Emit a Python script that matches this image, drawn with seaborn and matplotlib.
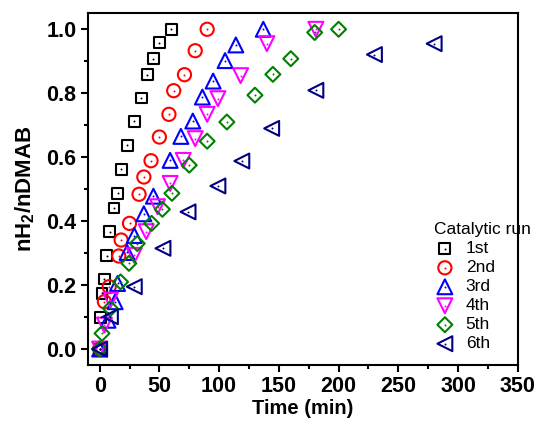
import matplotlib
matplotlib.use("Agg")
import matplotlib.pyplot as plt
import seaborn as sns
from matplotlib.ticker import MultipleLocator, FormatStrFormatter

# Data (time in min, nH2/nDMAB)
t_run1 = [0, 1, 2, 4, 6, 8.5, 12, 15, 18, 23, 29, 35, 40, 45, 50, 60]
y_run1 = [0, 0.10, 0.174, 0.219, 0.292, 0.367, 0.441, 0.487, 0.562, 0.638, 0.713, 0.785, 0.858, 0.908, 0.958, 1.0]

t_run2 = [0, 4, 8, 16, 18, 25, 33, 37, 43, 50, 58, 62, 71, 80, 90]
y_run2 = [0, 0.148, 0.195, 0.291, 0.341, 0.393, 0.484, 0.538, 0.589, 0.663, 0.734, 0.808, 0.858, 0.933, 1.0]

t_run3 = [0, 7, 13, 15, 23, 29, 37, 45, 59, 68, 78, 86, 95, 105, 114, 137]
y_run3 = [0, 0.09, 0.148, 0.205, 0.302, 0.355, 0.423, 0.478, 0.59, 0.665, 0.713, 0.788, 0.838, 0.902, 0.951, 1.0]

t_run4 = [0, 4, 9, 29, 39, 48.5, 59, 70, 80, 90, 99, 118, 140, 181]
y_run4 = [0, 0.075, 0.153, 0.293, 0.367, 0.445, 0.518, 0.59, 0.658, 0.734, 0.783, 0.855, 0.955, 1.0]

t_run5 = [0, 2, 9, 17.5, 24.5, 31.5, 43.5, 52.5, 60.5, 75, 90, 106.5, 130, 145, 160, 180, 200]
y_run5 = [0, 0.049, 0.127, 0.21, 0.268, 0.33, 0.393, 0.437, 0.487, 0.575, 0.65, 0.71, 0.794, 0.859, 0.908, 0.99, 1.0]

t_run6 = [0, 9, 29, 53, 74, 99, 119, 144, 181, 230, 280]
y_run6 = [0, 0.101, 0.195, 0.315, 0.429, 0.51, 0.588, 0.69, 0.809, 0.921, 0.955]

run_labels = ["1st", "2nd", "3rd", "4th", "5th", "6th"]

# styling
colors = ["black", "#FF0000", "#0000FF", "#FF00FF", "#008000", "#000080"]
markers = ["s", "o", "^", "v", "D", "<"]
sizes = [62, 90, 115, 115, 58, 115]

sns.set_style("ticks")
plt.rcParams["font.family"] = ["Liberation Sans", "DejaVu Sans"]
plt.rcParams["mathtext.fontset"] = "custom"
plt.rcParams["mathtext.bf"] = "Liberation Sans:bold"
plt.rcParams["mathtext.rm"] = "Liberation Sans:bold"
for key in ["text.color", "axes.labelcolor", "xtick.color", "ytick.color", "axes.edgecolor"]:
    plt.rcParams[key] = "black"

fig = plt.figure(figsize=(5.36, 4.22), dpi=100)
ax = fig.add_axes([0.1636, 0.135, 0.8024, 0.8335])

runs = [(t_run1, y_run1), (t_run2, y_run2), (t_run3, y_run3),
        (t_run4, y_run4), (t_run5, y_run5), (t_run6, y_run6)]

handles = []
for (t, y), lab, c, m, s in zip(runs, run_labels, colors, markers, sizes):
    sns.scatterplot(x=t, y=y, marker=m, s=s, color=c, facecolor="none",
                    edgecolor=c, linewidth=1.5, ax=ax, legend=False, zorder=3)
    h_marker = ax.collections[-1]
    # small dot in the centre of each symbol
    sns.scatterplot(x=t, y=y, marker="o", s=2, color=c, edgecolor=c,
                    linewidth=0, ax=ax, legend=False, zorder=4)
    h_dot = ax.collections[-1]
    handles.append((h_marker, h_dot))

ax.set_xlim(-10, 350)
ax.set_ylim(-0.05, 1.05)
ax.xaxis.set_major_locator(MultipleLocator(50))
ax.xaxis.set_minor_locator(MultipleLocator(25))
ax.yaxis.set_major_locator(MultipleLocator(0.2))
ax.yaxis.set_minor_locator(MultipleLocator(0.1))
ax.yaxis.set_major_formatter(FormatStrFormatter("%.1f"))
ax.tick_params(which="major", direction="out", length=5, width=1.5,
               labelsize=15.5, pad=3)
ax.tick_params(which="minor", direction="out", length=3, width=1.5)
for lbl in ax.get_xticklabels() + ax.get_yticklabels():
    lbl.set_fontweight("bold")
for sp in ax.spines.values():
    sp.set_linewidth(1.5)
    sp.set_visible(True)

ax.set_xlabel("Time (min)", fontsize=14.5, fontweight="bold", labelpad=1)
ax.set_ylabel(r"nH$_\mathbf{2}$/nDMAB", fontsize=16, fontweight="bold", labelpad=7)

leg = ax.legend(handles, run_labels, title="Catalytic run", loc="upper left",
                bbox_to_anchor=(0.776, 0.44), frameon=False, fontsize=12.5,
                title_fontsize=12.5, labelspacing=0.22, handletextpad=0.55,
                handlelength=1.3, borderpad=0.2)
leg._legend_box.align = "left"

fig.savefig("out.png", dpi=100)
